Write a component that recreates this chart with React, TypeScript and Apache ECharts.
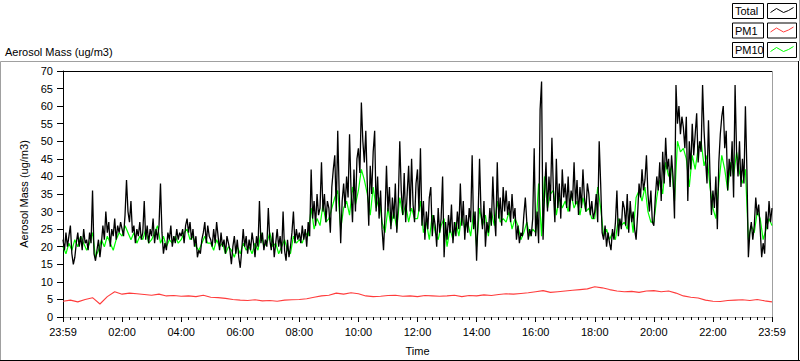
import React, { useEffect, useRef } from "react";
import * as echarts from "echarts";

// Total aerosol mass, one value every 3 minutes from 23:59 to 23:59 (ug/m3)
const totalStepMin = 3;
const totalValues: number[] = [
  22, 19, 24, 20, 23, 26, 18, 15, 17, 21, 24, 20, 23, 19, 25, 21, 22, 19, 24, 21,
  36, 18, 16, 19, 22, 17, 21, 26, 22, 30, 24, 27, 20, 25, 23, 28, 22, 26, 24, 27,
  25, 23, 29, 39, 30, 27, 33, 24, 26, 21, 25, 23, 27, 22, 24, 33, 22, 26, 21, 25,
  23, 28, 21, 25, 22, 26, 38, 24, 18, 21, 19, 24, 22, 26, 20, 23, 21, 25, 22, 24,
  23, 25, 21, 26, 28, 24, 27, 22, 25, 20, 23, 17, 19, 18, 22, 24, 27, 21, 26, 23,
  22, 20, 25, 21, 27, 23, 19, 24, 20, 22, 18, 23, 21, 19, 15, 20, 23, 18, 22, 17,
  14, 19, 25, 20, 23, 18, 22, 19, 24, 21, 17, 23, 20, 33, 21, 24, 19, 22, 20, 31,
  22, 19, 24, 17, 21, 25, 20, 23, 18, 30, 19, 16, 22, 17, 20, 24, 30, 21, 25, 22,
  24, 21, 26, 22, 25, 20, 27, 23, 42, 28, 33, 26, 35, 29, 31, 44, 30, 35, 27, 33,
  31, 24, 37, 42, 46, 30, 53, 35, 21, 33, 38, 31, 40, 34, 52, 36, 27, 42, 30, 45,
  48, 41, 61, 50, 44, 53, 38, 26, 43, 35, 47, 53, 30, 40, 28, 36, 25, 19, 29, 43,
  30, 37, 25, 34, 28, 38, 24, 33, 50, 36, 29, 41, 27, 35, 43, 30, 45, 32, 27, 38,
  42, 30, 48, 26, 33, 22, 30, 25, 34, 37, 23, 29, 26, 20, 31, 24, 28, 40, 17, 27,
  22, 29, 24, 32, 21, 27, 23, 30, 25, 38, 26, 33, 22, 29, 24, 31, 27, 46, 25, 30,
  16, 28, 45, 30, 25, 33, 20, 27, 24, 31, 26, 40, 29, 23, 44, 28, 34, 26, 37, 30,
  36, 29, 33, 27, 35, 28, 31, 22, 26, 21, 24, 23, 29, 34, 27, 22, 25, 23, 28, 48,
  23, 30, 21, 59, 67, 22, 35, 44, 30, 40, 33, 51, 36, 27, 45, 31, 38, 28, 42, 34,
  38, 31, 40, 30, 36, 33, 44, 32, 39, 29, 37, 31, 42, 34, 30, 38, 35, 29, 33, 28,
  30, 35, 27, 50, 38, 24, 22, 26, 20, 24, 21, 19, 25, 22, 27, 36, 23, 28, 25, 33,
  31, 26, 35, 24, 33, 27, 30, 25, 22, 29, 38, 34, 42, 36, 39, 46, 35, 30, 36, 27,
  26, 34, 40, 36, 44, 33, 47, 38, 51, 42, 45, 37, 46, 40, 28, 66, 55, 60, 52, 57,
  54, 48, 57, 33, 50, 42, 55, 46, 52, 58, 44, 50, 47, 66, 53, 45, 38, 56, 41, 29,
  36, 31, 40, 25, 44, 52, 57, 60, 48, 53, 36, 45, 40, 50, 34, 66, 47, 40, 50, 37,
  45, 38, 60, 42, 17, 24, 27, 22, 26, 34, 29, 32, 25, 17, 21, 18, 30, 25, 33, 27, 31,
];

// PM10, one value every 6 minutes
const pm10StepMin = 6;
const pm10Values: number[] = [
  20, 18, 21, 19, 22, 20, 23, 21, 19, 21,
  24, 17, 19, 22, 20, 23, 21, 19, 22, 24,
  23, 26, 24, 22, 24, 21, 23, 22, 25, 21,
  22, 24, 26, 21, 23, 20, 22, 21, 23, 21,
  22, 24, 25, 22, 23, 20, 19, 21, 23, 21,
  21, 19, 22, 20, 21, 18, 20, 19, 17, 20,
  18, 21, 19, 20, 18, 21, 19, 24, 20, 21,
  24, 20, 21, 18, 20, 22, 19, 18, 23, 21,
  22, 21, 24, 23, 31, 25, 28, 26, 32, 27,
  28, 31, 34, 36, 25, 31, 33, 29, 37, 32,
  36, 42, 39, 35, 29, 37, 31, 34, 27, 24,
  31, 26, 30, 25, 34, 29, 32, 27, 31, 28,
  28, 33, 24, 27, 22, 29, 24, 22, 26, 28,
  20, 25, 22, 27, 23, 29, 25, 27, 23, 30,
  20, 31, 26, 29, 23, 30, 26, 33, 27, 28,
  27, 30, 25, 28, 26, 22, 24, 27, 23, 25,
  24, 38, 23, 40, 31, 35, 36, 29, 34, 31,
  33, 30, 35, 31, 33, 29, 34, 30, 31, 28,
  28, 37, 31, 23, 25, 22, 24, 22, 28, 26,
  27, 25, 31, 24, 34, 36, 33, 37, 30, 27,
  27, 34, 39, 35, 44, 40, 43, 33, 50, 47,
  48, 45, 37, 46, 42, 48, 50, 43, 46, 37,
  31, 28, 38, 46, 42, 36, 44, 40, 47, 41,
  38, 42, 22, 26, 24, 30, 28, 22, 25, 28, 26,
];

// PM1, one value every 15 minutes
const pm1StepMin = 15;
const pm1Values: number[] = [
  4.5, 4.8, 4.3, 5.0,
  5.5, 3.7, 5.8, 7.2,
  6.5, 6.8, 6.6, 6.4,
  6.2, 6.5, 6.0, 6.1,
  5.9, 6.0, 5.8, 6.2,
  5.6, 5.5, 5.3, 5.0,
  4.8, 4.7, 4.9, 4.6,
  4.7, 4.5, 4.8, 4.9,
  5.0, 5.2, 5.6, 6.0,
  6.2, 6.8, 6.5, 6.9,
  6.6, 6.0, 5.8, 5.9,
  6.1, 6.2, 5.9, 6.0,
  5.8, 6.1, 6.0, 5.9,
  6.0, 6.2, 5.8, 6.1,
  6.0, 6.3, 6.1, 6.4,
  6.6, 6.5, 6.7, 6.9,
  7.2, 7.5, 7.0, 7.2,
  7.4, 7.6, 7.8, 8.0,
  8.6, 8.3, 7.8, 7.4,
  7.2, 7.3, 7.0, 7.4,
  7.5, 7.2, 7.4, 6.8,
  6.0, 5.6, 5.4, 4.8,
  4.5, 4.4, 4.7, 4.8,
  4.9, 4.7, 5.0, 4.6, 4.3,
];

const legendNames = ["Total", "PM1", "PM10"];
const legendColors = ["#000000", "#ff3c3c", "#00ff00"];

const xMinutesMax = 1440;
const xTickIntervalMin = 120;
const yMax = 70;
const yTickInterval = 5;

const FONT = '"Liberation Sans", Arial, sans-serif';

function toPairs(values: number[], step: number): [number, number][] {
  return values.map((v, i) => [i * step, v]);
}

function timeLabel(m: number): string {
  if (m === 0 || m === xMinutesMax) return "23:59";
  const h = Math.round(m / 60);
  return (h < 10 ? "0" : "") + h + ":00";
}

export default function App() {
  const ref = useRef<HTMLDivElement>(null);
  useEffect(() => {
    if (!ref.current) return;
    const chart = echarts.init(ref.current, undefined, { renderer: "svg" });

    const L = 63, T = 71, W = 709, H = 250;
    const graphic: any[] = [
      {
        type: "text", left: 5, top: 46,
        style: { text: "Aerosol Mass (ug/m3)", font: "11px " + FONT, fill: "#000" },
      },
      // outer panel
      { type: "line", shape: { x1: 0.5, y1: 61.5, x2: 798, y2: 61.5 }, style: { stroke: "#a0a0a0", lineWidth: 1 } },
      { type: "line", shape: { x1: 0.5, y1: 61.5, x2: 0.5, y2: 360 }, style: { stroke: "#a0a0a0", lineWidth: 1 } },
      { type: "line", shape: { x1: 0, y1: 360.5, x2: 800, y2: 360.5 }, style: { stroke: "#000", lineWidth: 1 } },
      { type: "line", shape: { x1: 798.5, y1: 61, x2: 798.5, y2: 361 }, style: { stroke: "#000", lineWidth: 1 } },
      { type: "line", shape: { x1: 799.5, y1: 0, x2: 799.5, y2: 61 }, style: { stroke: "#a0a0a0", lineWidth: 1 } },
      // plot frame
      { type: "line", shape: { x1: L, y1: T + 0.5, x2: L + W, y2: T + 0.5 }, style: { stroke: "#000", lineWidth: 1 } },
      { type: "line", shape: { x1: L + W + 0.5, y1: T, x2: L + W + 0.5, y2: T + H + 1 }, style: { stroke: "#a0a0a0", lineWidth: 1 } },
    ];

    const zig = [[3, 9], [9, 5], [16, 9], [21, 7], [26, 4]];
    legendNames.forEach((name, i) => {
      const y0 = 3.5 + i * 19.5;
      graphic.push({
        type: "rect", shape: { x: 732.5, y: y0, width: 31, height: 15 },
        style: { fill: "#fff", stroke: "#000", lineWidth: 1 },
      });
      graphic.push({
        type: "text", x: 735, y: y0 + 2,
        style: { text: name, font: "11px " + FONT, fill: "#000" },
      });
      graphic.push({
        type: "rect", shape: { x: 767.5, y: y0, width: 29, height: 15 },
        style: { fill: "#fff", stroke: "#000", lineWidth: 1 },
      });
      graphic.push({
        type: "polyline",
        shape: { points: zig.map(([dx, dy]) => [767.5 + dx, y0 + dy]) },
        style: { stroke: legendColors[i], lineWidth: 1, fill: "none" },
      });
    });

    chart.setOption({
      animation: false,
      backgroundColor: "#fff",
      textStyle: { fontFamily: FONT },
      grid: { left: L, top: T, width: W, height: H, containLabel: false },
      xAxis: {
        type: "value", min: 0, max: xMinutesMax, interval: xTickIntervalMin,
        name: "Time", nameLocation: "middle", nameGap: 28,
        nameTextStyle: { color: "#000", fontSize: 11, fontFamily: FONT },
        axisLine: { show: true, lineStyle: { color: "#a0a0a0", width: 1 } },
        axisTick: { show: true, length: 5, lineStyle: { color: "#000" } },
        minorTick: { show: true, splitNumber: 8, length: 3, lineStyle: { color: "#000" } },
        splitLine: { show: false },
        axisLabel: {
          color: "#000", fontSize: 11, fontFamily: FONT, margin: 9,
          formatter: (v: number) => timeLabel(v),
        },
      },
      yAxis: {
        type: "value", min: 0, max: yMax, interval: yTickInterval,
        name: "Aerosol Mass (ug/m3)", nameLocation: "middle", nameGap: 30,
        nameTextStyle: { color: "#000", fontSize: 11, fontFamily: FONT },
        axisLine: { show: true, lineStyle: { color: "#000", width: 1 } },
        axisTick: { show: true, length: 6, lineStyle: { color: "#000" } },
        splitLine: { show: false },
        axisLabel: { color: "#000", fontSize: 11, fontFamily: FONT, margin: 10 },
      },
      series: [
        {
          name: "PM1", type: "line", data: toPairs(pm1Values, pm1StepMin),
          showSymbol: false, symbol: "none", lineStyle: { color: legendColors[1], width: 1.1 },
        },
        {
          name: "PM10", type: "line", data: toPairs(pm10Values, pm10StepMin),
          showSymbol: false, symbol: "none", lineStyle: { color: legendColors[2], width: 1.2 },
        },
        {
          name: "Total", type: "line", data: toPairs(totalValues, totalStepMin),
          showSymbol: false, symbol: "none", lineStyle: { color: legendColors[0], width: 1.3 },
        },
      ],
      graphic,
    });
    return () => chart.dispose();
  }, []);
  return (
    <div
      ref={ref}
      style={{ position: "fixed", left: 0, top: 0, width: 800, height: 361, background: "#fff" }}
    />
  );
}
